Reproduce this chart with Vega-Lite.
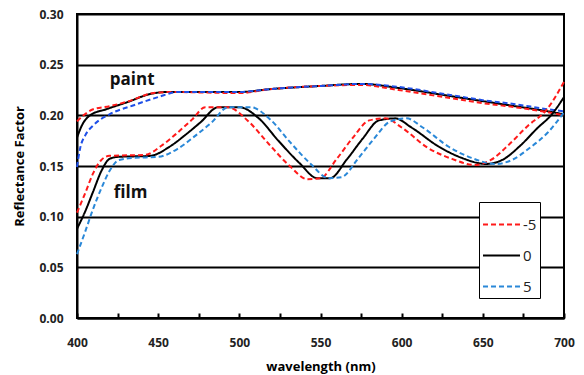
{
  "$schema": "https://vega.github.io/schema/vega-lite/v6.json",
  "width": 487,
  "height": 304,
  "autosize": {"type": "none"},
  "padding": {"left": 77, "top": 14, "right": 20, "bottom": 57},
  "config": {
    "view": {"stroke": "#000000", "strokeWidth": 2},
    "font": "Open Sans"
  },
  "datasets": {
    "curves": [
      {"k":"paint 0","w":400,"r":0.178},{"k":"paint 0","w":403,"r":0.19},{"k":"paint 0","w":408,"r":0.2},{"k":"paint 0","w":418,"r":0.206},{"k":"paint 0","w":431,"r":0.213},{"k":"paint 0","w":445,"r":0.221},{"k":"paint 0","w":455,"r":0.223},{"k":"paint 0","w":500,"r":0.223},{"k":"paint 0","w":520,"r":0.226},{"k":"paint 0","w":550,"r":0.229},{"k":"paint 0","w":575,"r":0.231},{"k":"paint 0","w":598,"r":0.227},{"k":"paint 0","w":630,"r":0.219},{"k":"paint 0","w":650,"r":0.214},{"k":"paint 0","w":670,"r":0.209},{"k":"paint 0","w":690,"r":0.204},{"k":"paint 0","w":700,"r":0.201},
      {"k":"paint -5","w":400,"r":0.194},{"k":"paint -5","w":404,"r":0.2},{"k":"paint -5","w":410,"r":0.206},{"k":"paint -5","w":420,"r":0.209},{"k":"paint -5","w":432,"r":0.214},{"k":"paint -5","w":447,"r":0.222},{"k":"paint -5","w":458,"r":0.223},{"k":"paint -5","w":500,"r":0.222},{"k":"paint -5","w":520,"r":0.226},{"k":"paint -5","w":550,"r":0.229},{"k":"paint -5","w":575,"r":0.23},{"k":"paint -5","w":598,"r":0.225},{"k":"paint -5","w":630,"r":0.217},{"k":"paint -5","w":650,"r":0.212},{"k":"paint -5","w":670,"r":0.208},{"k":"paint -5","w":690,"r":0.203},{"k":"paint -5","w":700,"r":0.2},
      {"k":"paint 5","w":400,"r":0.149},{"k":"paint 5","w":402,"r":0.168},{"k":"paint 5","w":405,"r":0.18},{"k":"paint 5","w":410,"r":0.19},{"k":"paint 5","w":420,"r":0.201},{"k":"paint 5","w":435,"r":0.21},{"k":"paint 5","w":450,"r":0.218},{"k":"paint 5","w":462,"r":0.223},{"k":"paint 5","w":500,"r":0.223},{"k":"paint 5","w":520,"r":0.226},{"k":"paint 5","w":550,"r":0.229},{"k":"paint 5","w":575,"r":0.231},{"k":"paint 5","w":598,"r":0.228},{"k":"paint 5","w":630,"r":0.22},{"k":"paint 5","w":650,"r":0.215},{"k":"paint 5","w":670,"r":0.211},{"k":"paint 5","w":690,"r":0.206},{"k":"paint 5","w":700,"r":0.204},
      {"k":"film 0","w":400,"r":0.088},{"k":"film 0","w":405,"r":0.105},{"k":"film 0","w":410,"r":0.125},{"k":"film 0","w":415,"r":0.145},{"k":"film 0","w":420,"r":0.157},{"k":"film 0","w":425,"r":0.159},{"k":"film 0","w":445,"r":0.16},{"k":"film 0","w":457,"r":0.169},{"k":"film 0","w":467,"r":0.181},{"k":"film 0","w":476,"r":0.193},{"k":"film 0","w":487,"r":0.208},{"k":"film 0","w":500,"r":0.208},{"k":"film 0","w":512,"r":0.197},{"k":"film 0","w":524,"r":0.175},{"k":"film 0","w":537,"r":0.153},{"k":"film 0","w":548,"r":0.138},{"k":"film 0","w":556,"r":0.138},{"k":"film 0","w":566,"r":0.156},{"k":"film 0","w":576,"r":0.177},{"k":"film 0","w":586,"r":0.195},{"k":"film 0","w":596,"r":0.197},{"k":"film 0","w":606,"r":0.188},{"k":"film 0","w":623,"r":0.169},{"k":"film 0","w":637,"r":0.158},{"k":"film 0","w":652,"r":0.152},{"k":"film 0","w":662,"r":0.156},{"k":"film 0","w":673,"r":0.17},{"k":"film 0","w":684,"r":0.188},{"k":"film 0","w":692,"r":0.2},{"k":"film 0","w":700,"r":0.218},
      {"k":"film -5","w":400,"r":0.104},{"k":"film -5","w":405,"r":0.123},{"k":"film -5","w":410,"r":0.143},{"k":"film -5","w":415,"r":0.156},{"k":"film -5","w":420,"r":0.16},{"k":"film -5","w":442,"r":0.161},{"k":"film -5","w":452,"r":0.17},{"k":"film -5","w":462,"r":0.183},{"k":"film -5","w":471,"r":0.196},{"k":"film -5","w":479,"r":0.208},{"k":"film -5","w":493,"r":0.208},{"k":"film -5","w":505,"r":0.195},{"k":"film -5","w":518,"r":0.172},{"k":"film -5","w":531,"r":0.15},{"k":"film -5","w":542,"r":0.137},{"k":"film -5","w":550,"r":0.138},{"k":"film -5","w":560,"r":0.157},{"k":"film -5","w":570,"r":0.178},{"k":"film -5","w":580,"r":0.195},{"k":"film -5","w":590,"r":0.197},{"k":"film -5","w":600,"r":0.188},{"k":"film -5","w":616,"r":0.168},{"k":"film -5","w":631,"r":0.157},{"k":"film -5","w":645,"r":0.151},{"k":"film -5","w":655,"r":0.156},{"k":"film -5","w":666,"r":0.171},{"k":"film -5","w":678,"r":0.19},{"k":"film -5","w":689,"r":0.205},{"k":"film -5","w":700,"r":0.233},
      {"k":"film 5","w":400,"r":0.063},{"k":"film 5","w":405,"r":0.085},{"k":"film 5","w":410,"r":0.108},{"k":"film 5","w":415,"r":0.128},{"k":"film 5","w":420,"r":0.145},{"k":"film 5","w":426,"r":0.156},{"k":"film 5","w":435,"r":0.158},{"k":"film 5","w":450,"r":0.159},{"k":"film 5","w":462,"r":0.167},{"k":"film 5","w":473,"r":0.18},{"k":"film 5","w":483,"r":0.193},{"k":"film 5","w":493,"r":0.208},{"k":"film 5","w":507,"r":0.208},{"k":"film 5","w":519,"r":0.196},{"k":"film 5","w":531,"r":0.174},{"k":"film 5","w":544,"r":0.152},{"k":"film 5","w":555,"r":0.138},{"k":"film 5","w":563,"r":0.139},{"k":"film 5","w":573,"r":0.157},{"k":"film 5","w":583,"r":0.177},{"k":"film 5","w":593,"r":0.194},{"k":"film 5","w":603,"r":0.197},{"k":"film 5","w":613,"r":0.188},{"k":"film 5","w":629,"r":0.169},{"k":"film 5","w":643,"r":0.158},{"k":"film 5","w":658,"r":0.152},{"k":"film 5","w":668,"r":0.156},{"k":"film 5","w":679,"r":0.168},{"k":"film 5","w":690,"r":0.183},{"k":"film 5","w":700,"r":0.203}
    ],
    "labels": [
      {"t":"paint","w":434,"r":0.235},
      {"t":"film","w":433,"r":0.123}
    ]
  },
  "encoding": {
    "x": {
      "field": "w", "type": "quantitative",
      "scale": {"domain": [400, 700], "nice": false},
      "axis": {
        "title": "wavelength (nm)",
        "values": [400,425,450,475,500,525,550,575,600,625,650,675,700],
        "labelExpr": "datum.value % 50 == 0 ? datum.label : ''",
        "labelFlush": false,
        "grid": false,
        "domainColor": "#000000", "domainWidth": 2,
        "tickColor": "#000000", "tickWidth": 2, "tickSize": -5,
        "labelFont": "Open Sans", "labelFontWeight": "bold", "labelFontSize": 12, "labelColor": "#222222",
        "labelPadding": 24,
        "titleFont": "Open Sans", "titleFontWeight": "bold", "titleFontSize": 13, "titleColor": "#000000",
        "titlePadding": 12
      }
    },
    "y": {
      "field": "r", "type": "quantitative",
      "scale": {"domain": [0, 0.3], "nice": false},
      "axis": {
        "title": "Reflectance Factor",
        "values": [0, 0.05, 0.1, 0.15, 0.2, 0.25, 0.3],
        "format": ".2f",
        "labelFlush": false,
        "grid": true, "gridColor": "#000000", "gridWidth": 2, "gridOpacity": 1,
        "ticks": false,
        "domainColor": "#000000", "domainWidth": 2,
        "labelFont": "Open Sans", "labelFontWeight": "bold", "labelFontSize": 12, "labelColor": "#222222",
        "labelPadding": 14,
        "titleFont": "Open Sans", "titleFontWeight": "bold", "titleFontSize": 13, "titleColor": "#000000",
        "titlePadding": 12
      }
    }
  },
  "layer": [
    {
      "data": {"name": "curves"},
      "mark": {"type": "line", "interpolate": "monotone", "strokeWidth": 2},
      "encoding": {
        "color": {
          "field": "k", "type": "nominal",
          "scale": {
            "domain": ["paint 0","paint -5","paint 5","film 0","film -5","film 5"],
            "range": ["#000000","#ff1a1a","#1f50e8","#000000","#ff1a1a","#2a88d8"]
          },
          "legend": {
            "values": ["film -5","film 0","film 5"],
            "title": null,
            "orient": "none",
            "legendX": 402,
            "legendY": 188,
            "labelExpr": "split(datum.label, ' ')[1]",
            "symbolType": "stroke",
            "symbolSize": 1369,
            "symbolStrokeWidth": 2,
            "labelFont": "Open Sans",
            "labelFontSize": 15,
            "labelColor": "#222222",
            "labelOffset": 2,
            "rowPadding": 3,
            "padding": 3,
            "strokeColor": "#000000",
            "fillColor": "#ffffff",
            "cornerRadius": 0
          }
        },
        "strokeDash": {
          "field": "k", "type": "nominal",
          "scale": {
            "domain": ["paint 0","paint -5","paint 5","film 0","film -5","film 5"],
            "range": [[1,0],[5,3],[5,3],[1,0],[5,3],[5,3]]
          },
          "legend": {
            "values": ["film -5","film 0","film 5"],
            "title": null,
            "orient": "none",
            "legendX": 402,
            "legendY": 188,
            "labelExpr": "split(datum.label, ' ')[1]",
            "symbolType": "stroke",
            "symbolSize": 1369,
            "symbolStrokeWidth": 2,
            "labelFont": "Open Sans",
            "labelFontSize": 15,
            "labelColor": "#222222",
            "labelOffset": 2,
            "rowPadding": 3,
            "padding": 3,
            "strokeColor": "#000000",
            "fillColor": "#ffffff",
            "cornerRadius": 0
          }
        }
      }
    },
    {
      "data": {"name": "labels"},
      "mark": {"type": "text", "font": "Open Sans", "fontWeight": "bold", "fontSize": 17, "color": "#111111"},
      "encoding": {
        "text": {"field": "t"}
      }
    }
  ]
}
